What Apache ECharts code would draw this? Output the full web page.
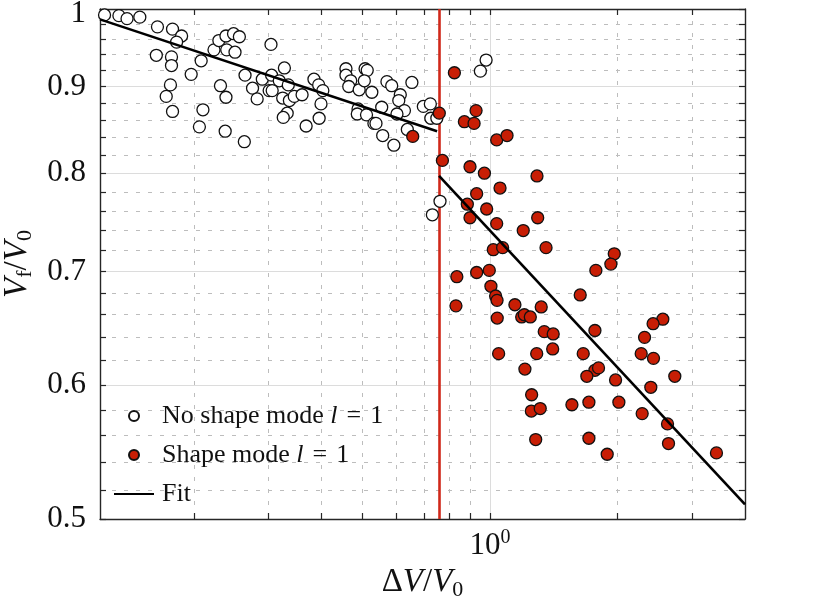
<!DOCTYPE html>
<html>
<head>
<meta charset="utf-8">
<script src="https://cdn.jsdelivr.net/npm/echarts@6/dist/echarts.min.js"></script>
<style>
  html, body { margin: 0; padding: 0; background: #fff; }
  #chart { width: 831px; height: 601px; }
</style>
</head>
<body>
<div id="chart"></div>
<script>
// no shape mode l = 1 (open circles)
const whiteX = [0.123, 0.133, 0.139, 0.149, 0.164, 0.178, 0.187, 0.182, 0.163, 0.177,
  0.177, 0.176, 0.172, 0.178, 0.197, 0.208, 0.210, 0.206, 0.223, 0.229,
  0.238, 0.248, 0.256, 0.239, 0.250, 0.231, 0.238, 0.237, 0.263, 0.264,
  0.275, 0.282, 0.290, 0.304, 0.305, 0.318, 0.327, 0.301, 0.306, 0.334,
  0.324, 0.336, 0.345, 0.360, 0.332, 0.325, 0.368, 0.384, 0.394, 0.403,
  0.399, 0.395, 0.457, 0.457, 0.469, 0.464, 0.491, 0.507, 0.513, 0.505,
  0.526, 0.488, 0.486, 0.511, 0.532, 0.538, 0.555, 0.558, 0.571, 0.586,
  0.614, 0.609, 0.628, 0.603, 0.638, 0.593, 0.654, 0.696, 0.723, 0.725,
  0.749, 0.979, 0.949, 0.762, 0.731];
const whiteY = [0.992, 0.991, 0.987, 0.989, 0.976, 0.973, 0.964, 0.956, 0.939, 0.937,
  0.926, 0.902, 0.888, 0.870, 0.915, 0.932, 0.872, 0.852, 0.946, 0.958,
  0.964, 0.967, 0.963, 0.946, 0.943, 0.901, 0.887, 0.847, 0.835, 0.914,
  0.898, 0.885, 0.909, 0.953, 0.914, 0.907, 0.923, 0.895, 0.895, 0.902,
  0.886, 0.883, 0.888, 0.890, 0.868, 0.863, 0.853, 0.909, 0.902, 0.895,
  0.879, 0.862, 0.922, 0.914, 0.907, 0.900, 0.896, 0.922, 0.920, 0.907,
  0.893, 0.873, 0.867, 0.866, 0.856, 0.856, 0.875, 0.842, 0.906, 0.901,
  0.890, 0.883, 0.871, 0.867, 0.849, 0.831, 0.905, 0.876, 0.879, 0.862,
  0.862, 0.933, 0.919, 0.770, 0.756];

// shape mode l = 1 (red dots)
const redX = [0.824, 0.927, 0.870, 0.917, 0.759, 0.657, 1.037, 1.097, 0.772, 0.897,
  0.970, 1.291, 0.930, 1.056, 0.884, 0.982, 0.897, 1.037, 1.296, 1.198,
  1.018, 1.071, 1.356, 1.965, 1.929, 1.778, 0.835, 0.930, 0.996, 1.005,
  1.031, 1.039, 0.831, 1.145, 1.321, 1.633, 1.040, 1.188, 1.205, 1.245,
  1.343, 1.410, 1.769, 2.559, 2.427, 2.317, 1.406, 1.048, 1.289, 1.660,
  2.275, 2.432, 1.209, 1.769, 1.804, 1.693, 1.979, 2.731, 2.397, 1.254,
  1.252, 1.314, 1.561, 1.712, 2.015, 2.287, 2.625, 1.282, 1.712, 1.891,
  2.639, 3.425];
const redY = [0.917, 0.871, 0.858, 0.856, 0.868, 0.841, 0.837, 0.842, 0.814, 0.807,
  0.800, 0.797, 0.778, 0.784, 0.767, 0.762, 0.753, 0.747, 0.753, 0.740,
  0.721, 0.723, 0.723, 0.717, 0.707, 0.701, 0.695, 0.699, 0.701, 0.686,
  0.677, 0.673, 0.668, 0.669, 0.667, 0.678, 0.657, 0.658, 0.660, 0.658,
  0.645, 0.643, 0.646, 0.656, 0.652, 0.640, 0.630, 0.626, 0.626, 0.626,
  0.626, 0.622, 0.613, 0.612, 0.614, 0.607, 0.604, 0.607, 0.598, 0.592,
  0.579, 0.581, 0.584, 0.586, 0.586, 0.577, 0.569, 0.557, 0.558, 0.546,
  0.554, 0.547];

// fit segments, either side of the threshold
const fitLowX = [0.12, 0.75];
const fitLowY = [0.986, 0.847];
const fitHighX = [0.758, 4];
const fitHighY = [0.797, 0.51];
const threshold = 0.758;

// axis ranges and ticks
const xRange = [0.12, 4];
const yRange = [0.5, 1];
const xMinorTicks = [0.2, 0.3, 0.4, 0.5, 0.6, 0.7, 0.8, 0.9, 2, 3];
const xMajorTicks = [1];
const yMinorTicks = [0.52, 0.54, 0.56, 0.58, 0.62, 0.64, 0.66, 0.68, 0.72, 0.74,
  0.76, 0.78, 0.82, 0.84, 0.86, 0.88, 0.92, 0.94, 0.96, 0.98];
const yMajorTicks = [0.5, 0.6, 0.7, 0.8, 0.9, 1];

const lg = v => Math.log10(v);
const pairs = (xs, ys) => xs.map((x, i) => [lg(x), lg(ys[i])]);

const FONT = '"Liberation Serif", "DejaVu Serif", serif';
const INK = '#262626';
const TXT = '#111';
const RED = '#c81e05';

const xAll = xMinorTicks.concat(xMajorTicks).map(lg);
const yAll = yMinorTicks.concat(yMajorTicks).map(lg);
const yInnerMajor = yMajorTicks.filter(v => v > yRange[0] && v < yRange[1]);

const axisLineOn = { show: true, onZero: false, lineStyle: { color: INK, width: 1.4 } };
const axisLineOff = { show: false, onZero: false };
const tickOn = vals => ({ show: true, inside: true, length: 6, customValues: vals, lineStyle: { color: INK, width: 1.2 } });
const tickOff = vals => ({ show: false, customValues: vals });
const dashed = { show: true, lineStyle: { color: '#bdbdbd', width: 1, type: [4, 8] } };
const solid = { show: true, lineStyle: { color: '#dcdcdc', width: 1, type: 'solid' } };

function xAx(extra) {
  return Object.assign({ type: 'value', min: lg(xRange[0]), max: lg(xRange[1]),
    axisLabel: { show: false }, splitLine: { show: false } }, extra);
}
function yAx(extra) {
  return Object.assign({ type: 'value', min: lg(yRange[0]), max: lg(yRange[1]),
    axisLabel: { show: false }, splitLine: { show: false } }, extra);
}

const nameRich = {
  n: { fontFamily: FONT, fontSize: 33, lineHeight: 38, color: TXT },
  i: { fontFamily: FONT, fontSize: 33, lineHeight: 38, fontStyle: 'italic', color: TXT },
  s: { fontFamily: FONT, fontSize: 22, lineHeight: 22, verticalAlign: 'bottom', color: TXT }
};
const legendRich = {
  i: { fontFamily: FONT, fontSize: 26, fontStyle: 'italic', color: TXT },
  e: { fontFamily: FONT, fontSize: 26, color: TXT, padding: [0, 9, 0, 9] },
  d: { fontFamily: FONT, fontSize: 26, color: TXT }
};

const chart = echarts.init(document.getElementById('chart'));
chart.setOption({
  animation: false,
  backgroundColor: '#fff',
  grid: { left: 100, right: 86, top: 9, bottom: 82, containLabel: false, outerBoundsMode: 'none' },
  legend: {
    orient: 'vertical',
    left: 108,
    top: 398,
    itemWidth: 40,
    itemHeight: 10,
    itemGap: 13,
    data: [
      'No shape mode l = 1',
      'Shape mode l = 1',
      { name: 'Fit', itemStyle: { color: 'rgba(0,0,0,0)', borderColor: 'rgba(0,0,0,0)', borderWidth: 0 } }
    ],
    formatter: name => name.replace(' l = 1', ' {i|l}{e|=}{d|1}'),
    textStyle: {
      fontFamily: FONT, fontSize: 26, lineHeight: 26, color: TXT, padding: [0, 0, 0, 3],
      rich: legendRich
    }
  },
  xAxis: [
    xAx({
      position: 'bottom',
      axisLine: axisLineOn,
      axisTick: tickOn(xAll),
      axisLabel: {
        show: true, margin: 9, customValues: xMajorTicks.map(lg),
        formatter: v => '{b|10}{p|' + Math.round(v) + '}',
        rich: {
          b: { fontFamily: FONT, fontSize: 31, lineHeight: 35, color: TXT },
          p: { fontFamily: FONT, fontSize: 20, lineHeight: 20, verticalAlign: 'top', color: TXT }
        }
      },
      name: '{n|Δ}{i|V}{n|/}{i|V}{s|0}',
      nameLocation: 'middle',
      nameGap: 44,
      nameTextStyle: { rich: nameRich }
    }),
    xAx({ position: 'top', axisLine: axisLineOn, axisTick: tickOn(xAll) }),
    xAx({ position: 'bottom', axisLine: axisLineOff, axisTick: tickOff(xMinorTicks.map(lg)), splitLine: dashed }),
    xAx({ position: 'top', axisLine: axisLineOff, axisTick: tickOff(xMajorTicks.map(lg)), splitLine: solid })
  ],
  yAxis: [
    yAx({
      position: 'left',
      axisLine: axisLineOn,
      axisTick: tickOn(yAll),
      axisLabel: {
        show: true, margin: 14, customValues: yMajorTicks.map(lg),
        fontFamily: FONT, fontSize: 31, color: TXT,
        formatter: v => {
          const n = Math.pow(10, v);
          return n > 0.999 ? '{t|1}' : n.toFixed(1);
        },
        rich: { t: { fontFamily: FONT, fontSize: 31, color: TXT, padding: [9, 0, 0, 0] } }
      },
      name: '{i|V}{s|f}{n|/}{i|V}{s|0}',
      nameLocation: 'middle',
      nameGap: 60,
      nameTextStyle: { rich: nameRich }
    }),
    yAx({ position: 'right', axisLine: axisLineOn, axisTick: tickOn(yAll) }),
    yAx({ position: 'left', axisLine: axisLineOff, axisTick: tickOff(yMinorTicks.map(lg)), splitLine: dashed }),
    yAx({ position: 'right', axisLine: axisLineOff, axisTick: tickOff(yInnerMajor.map(lg)), splitLine: solid })
  ],
  series: [
    {
      name: 'No shape mode l = 1',
      type: 'scatter',
      z: 3,
      symbol: 'circle',
      symbolSize: 12,
      data: pairs(whiteX, whiteY),
      itemStyle: { color: '#ffffff', borderColor: '#111', borderWidth: 1.3, opacity: 1 },
      markLine: {
        z: 1,
        silent: true,
        symbol: ['none', 'none'],
        label: { show: false },
        lineStyle: { color: '#d0281a', width: 2.6, type: 'solid' },
        data: [{ xAxis: lg(threshold) }]
      }
    },
    {
      name: 'Shape mode l = 1',
      type: 'scatter',
      z: 3,
      symbol: 'circle',
      symbolSize: 12,
      data: pairs(redX, redY),
      itemStyle: { color: RED, borderColor: '#111', borderWidth: 1.3, opacity: 1 }
    },
    {
      name: 'Fit',
      type: 'line',
      z: 4,
      symbol: 'none',
      data: pairs(fitLowX, fitLowY),
      itemStyle: { color: '#000' },
      lineStyle: { color: '#000', width: 2.6 }
    },
    {
      name: 'Fit',
      type: 'line',
      z: 4,
      symbol: 'none',
      data: pairs(fitHighX, fitHighY),
      itemStyle: { color: '#000' },
      lineStyle: { color: '#000', width: 2.6 }
    }
  ]
});
</script>
</body>
</html>
